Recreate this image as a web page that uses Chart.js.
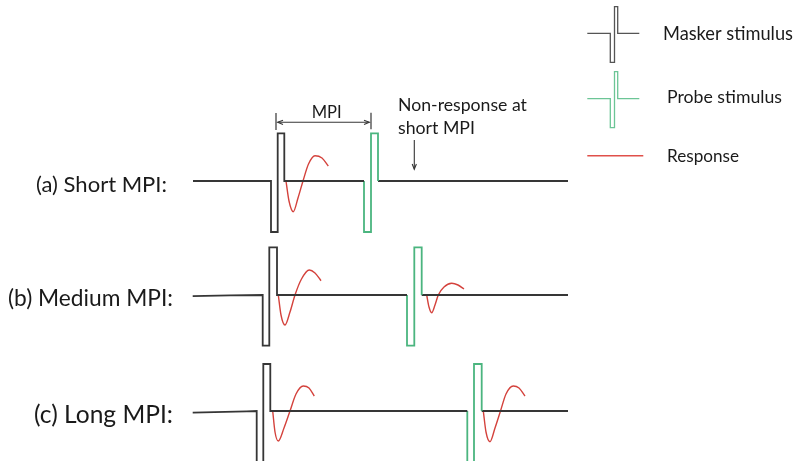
<!DOCTYPE html>
<html>
<head>
<meta charset="utf-8">
<script src="https://cdn.jsdelivr.net/npm/chart.js@4/dist/chart.umd.min.js"></script>
<style>
  html, body { margin: 0; padding: 0; background: #ffffff; }
  #wrap { width: 796px; height: 461px; }
</style>
</head>
<body>
<div id="wrap"><canvas id="c" width="796" height="461"></canvas></div>
<script>
// ---- Diagram data (x = time axis units, y = amplitude axis units, y grows downward) ----
// (a) Short MPI row
const shortBaseline1 = [[193,181],[271,181],[271,232],[277.7,232],[277.7,133.3],[284.3,133.3],[284.3,181],[364,181]];
const shortProbe     = [[364,181],[364,232],[371,232],[371,133.3],[378,133.3],[378,181]];
const shortBaseline2 = [[378,181],[568,181]];
const shortResponse  = [[286,181],[289,201],[293.3,211.7],[298,198],[303,181],[308.5,164],[315,155.7],[322,158],[328.3,166]];

// (b) Medium MPI row
const medBaseline1 = [[192.7,296.2],[230,295.4],[262.7,295],[262.7,345.7],[269.3,345.7],[269.3,247.3],[277,247.3],[277,295],[407,295]];
const medProbe     = [[407,295],[407,345.7],[414.3,345.7],[414.3,247.3],[421.7,247.3],[421.7,295]];
const medBaseline2 = [[421.7,295],[568,295]];
const medResponse1 = [[278.3,295],[281,315],[285,325],[290,312],[295,295],[301.5,279],[309.3,270],[315,273],[321,280.7]];
const medResponse2 = [[426.7,295],[429,307],[431.7,312.7],[435,305],[438.3,295],[444,287],[451.7,283.3],[458,285],[464,289]];

// (c) Long MPI row
const longBaseline1 = [[192.7,412.7],[246.7,411.3],[256.7,411],[256.7,463],[263.3,463],[263.3,364],[270.3,364],[270.3,411],[467.3,411]];
const longProbe     = [[467.3,411],[467.3,463],[474,463],[474,364],[481.7,364],[481.7,411]];
const longBaseline2 = [[481.7,411],[568,411]];
const longResponse1 = [[272.7,411],[275,432],[278.3,441],[284,428],[290,411],[296,394],[303.3,386],[309,388],[314.3,396]];
const longResponse2 = [[483.3,411],[486,432],[490,441.7],[495,428],[500.5,411],[506,394],[513.3,386],[519,388],[525,396]];

// MPI bracket and annotation arrow
const mpiTickLeft   = [[276,113],[276,130]];
const mpiTickRight  = [[371,112.7],[371,129.3]];
const mpiArrowLine  = [[277.7,122.3],[369.3,122.3]];
const mpiHeadLeft   = [[283,120.2],[277.7,122.3],[283,124.4]];
const mpiHeadRight  = [[364,120.2],[369.3,122.3],[364,124.4]];
const nonRespArrow  = [[414.3,140],[414.3,169.3]];
const nonRespHead   = [[412.2,164],[414.3,169.3],[416.4,164]];

// Legend icons
const legendMasker   = [[587.3,33.3],[610.3,33.3],[610.3,62.3],[614.5,62.3],[614.5,6.7],[617.7,6.7],[617.7,33.3],[639.3,33.3]];
const legendProbe    = [[587.3,98.7],[610.3,98.7],[610.3,127.7],[614.5,127.7],[614.5,71.7],[617.7,71.7],[617.7,98.7],[639.3,98.7]];
const legendResponse = [[587.3,155.7],[643.3,155.7]];

// Text labels
const rowLabels   = ['(a) Short MPI:', '(b) Medium MPI:', '(c) Long MPI:'];
const legendTexts = ['Masker stimulus', 'Probe stimulus', 'Response'];
const mpiText     = 'MPI';
const noteLines   = ['Non-response at', 'short MPI'];

// ---- Styles ----
const BLACK = '#363636';
const GREEN = '#4bb57f';
const RED   = '#d4423c';
const FONT  = 'Lato, "Open Sans", sans-serif';

const pts = arr => arr.map(p => ({x: p[0], y: p[1]}));
function ds(arr, color, width, smooth) {
  return {
    data: pts(arr), showLine: true, borderColor: color, backgroundColor: color,
    borderWidth: width, pointRadius: 0, pointHoverRadius: 0, fill: false,
    tension: smooth ? 0.4 : 0, cubicInterpolationMode: smooth ? 'monotone' : 'default',
    borderJoinStyle: 'miter', borderCapStyle: 'butt'
  };
}

const datasets = [
  ds(shortBaseline1, BLACK, 1.8), ds(shortProbe, GREEN, 1.8), ds(shortBaseline2, BLACK, 1.8),
  ds(shortResponse, RED, 1.4, true),
  ds(medBaseline1, BLACK, 1.8), ds(medProbe, GREEN, 1.8), ds(medBaseline2, BLACK, 1.8),
  ds(medResponse1, RED, 1.4, true), ds(medResponse2, RED, 1.4, true),
  ds(longBaseline1, BLACK, 1.8), ds(longProbe, GREEN, 1.8), ds(longBaseline2, BLACK, 1.8),
  ds(longResponse1, RED, 1.4, true), ds(longResponse2, RED, 1.4, true),
  ds(mpiTickLeft, BLACK, 1.2), ds(mpiTickRight, BLACK, 1.2), ds(mpiArrowLine, BLACK, 1.1),
  ds(mpiHeadLeft, BLACK, 1.1), ds(mpiHeadRight, BLACK, 1.1),
  ds(nonRespArrow, BLACK, 1.1), ds(nonRespHead, BLACK, 1.1),
  ds(legendMasker, '#555555', 1.3), ds(legendProbe, '#6cc596', 1.3), ds(legendResponse, '#e0504a', 1.6)
];

// Text layout: anchor (axis units), alignment, and target width in px
const rowLabelAnchors    = [[167,184.5],[173,299],[173,415]];
const rowLabelWidths     = [131, 165, 139];
const legendTextAnchors  = [[663,34.3],[667,97.5],[667,156]];
const legendTextWidths   = [130, 115, 72];
const mpiAnchor          = [326.7,113];
const mpiWidth           = 30;
const noteAnchors        = [[398,105.7],[398,128]];
const noteWidths         = [129, 77];

function fitText(ctx, text, px, py, width, align) {
  const base = 20;
  ctx.font = base + 'px ' + FONT;
  const w = ctx.measureText(text).width;
  const size = base * width / w;
  ctx.font = size.toFixed(2) + 'px ' + FONT;
  ctx.textAlign = align;
  ctx.fillText(text, px, py);
}

const textPlugin = {
  id: 'texts',
  afterDatasetsDraw(chart) {
    const {ctx, scales: {x, y}} = chart;
    ctx.save();
    ctx.fillStyle = '#1a1a1a';
    ctx.textBaseline = 'middle';
    rowLabels.forEach((t, i) => fitText(ctx, t, x.getPixelForValue(rowLabelAnchors[i][0]), y.getPixelForValue(rowLabelAnchors[i][1]), rowLabelWidths[i], 'right'));
    legendTexts.forEach((t, i) => fitText(ctx, t, x.getPixelForValue(legendTextAnchors[i][0]), y.getPixelForValue(legendTextAnchors[i][1]), legendTextWidths[i], 'left'));
    noteLines.forEach((t, i) => fitText(ctx, t, x.getPixelForValue(noteAnchors[i][0]), y.getPixelForValue(noteAnchors[i][1]), noteWidths[i], 'left'));
    fitText(ctx, mpiText, x.getPixelForValue(mpiAnchor[0]), y.getPixelForValue(mpiAnchor[1]), mpiWidth, 'center');
    ctx.restore();
  }
};

new Chart(document.getElementById('c'), {
  type: 'scatter',
  data: { datasets },
  options: {
    responsive: false,
    animation: false,
    events: [],
    layout: { padding: 0 },
    plugins: { legend: { display: false }, tooltip: { enabled: false } },
    scales: {
      x: { type: 'linear', min: 0, max: 796, display: false },
      y: { type: 'linear', min: 0, max: 461, reverse: true, display: false }
    }
  },
  plugins: [textPlugin]
});
</script>
</body>
</html>
